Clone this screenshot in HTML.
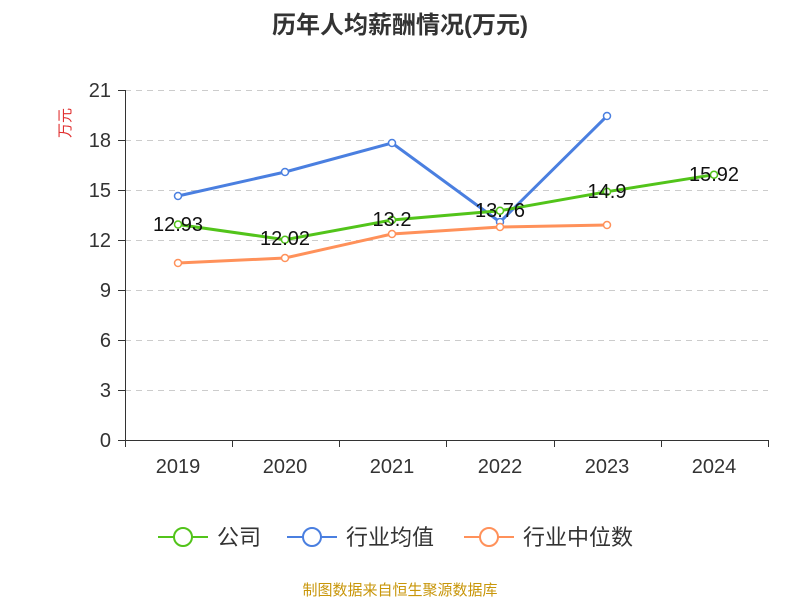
<!DOCTYPE html>
<html><head><meta charset="utf-8"><style>
html,body{margin:0;padding:0;background:#fff;}
svg{display:block;}
text{font-family:"Liberation Sans","Noto Sans CJK SC",sans-serif;}
</style></head><body>
<svg width="800" height="600" viewBox="0 0 800 600" xmlns="http://www.w3.org/2000/svg">
<rect width="800" height="600" fill="#fff"/>
<text x="400" y="33" text-anchor="middle" font-size="24" font-weight="bold" fill="#333">历年人均薪酬情况(万元)</text>
<text x="70" y="123" font-size="15" fill="#e03030" text-anchor="middle" transform="rotate(-90 70 123)">万元</text>
<g stroke="#ccc" stroke-dasharray="6,5" stroke-width="1">
<line x1="125" x2="768" y1="90.5" y2="90.5"/><line x1="125" x2="768" y1="140.5" y2="140.5"/>
<line x1="125" x2="768" y1="190.5" y2="190.5"/><line x1="125" x2="768" y1="240.5" y2="240.5"/>
<line x1="125" x2="768" y1="290.5" y2="290.5"/><line x1="125" x2="768" y1="340.5" y2="340.5"/>
<line x1="125" x2="768" y1="390.5" y2="390.5"/>
</g>
<g stroke="#333" stroke-width="1">
<line x1="125.5" x2="125.5" y1="90" y2="440"/>
<line x1="125" x2="769" y1="440.5" y2="440.5"/>
<line x1="118" x2="125" y1="90.5" y2="90.5"/><line x1="118" x2="125" y1="140.5" y2="140.5"/>
<line x1="118" x2="125" y1="190.5" y2="190.5"/><line x1="118" x2="125" y1="240.5" y2="240.5"/>
<line x1="118" x2="125" y1="290.5" y2="290.5"/><line x1="118" x2="125" y1="340.5" y2="340.5"/>
<line x1="118" x2="125" y1="390.5" y2="390.5"/><line x1="118" x2="125" y1="440.5" y2="440.5"/>
<line x1="232.5" x2="232.5" y1="440" y2="447"/><line x1="339.5" x2="339.5" y1="440" y2="447"/>
<line x1="446.5" x2="446.5" y1="440" y2="447"/><line x1="554.5" x2="554.5" y1="440" y2="447"/>
<line x1="661.5" x2="661.5" y1="440" y2="447"/><line x1="768.5" x2="768.5" y1="440" y2="447"/>
<line x1="125.5" x2="125.5" y1="440" y2="447"/>
</g>
<g font-size="20" fill="#333" text-anchor="end">
<text x="111" y="97">21</text><text x="111" y="147">18</text><text x="111" y="197">15</text>
<text x="111" y="247">12</text><text x="111" y="297">9</text><text x="111" y="347">6</text>
<text x="111" y="397">3</text><text x="111" y="447">0</text>
</g>
<g font-size="20" fill="#333" text-anchor="middle">
<text x="178" y="473">2019</text><text x="285" y="473">2020</text><text x="392" y="473">2021</text>
<text x="500" y="473">2022</text><text x="607" y="473">2023</text><text x="714" y="473">2024</text>
</g>
<g fill="none" stroke-width="3">
<polyline stroke="#4a7fe0" points="178,196 285,172 392,143 500,222 607,116"/>
<polyline stroke="#ff915a" points="178,263 285,258 392,234 500,227 607,225"/>
<polyline stroke="#52c41a" points="178,224.5 285,239.7 392,220 500,210.7 607,191.7 714,174.7"/>
</g>
<g fill="#fff" stroke-width="1.5">
<g stroke="#4a7fe0"><circle cx="178" cy="196" r="3.5"/><circle cx="285" cy="172" r="3.5"/><circle cx="392" cy="143" r="3.5"/><circle cx="500" cy="222" r="3.5"/><circle cx="607" cy="116" r="3.5"/></g>
<g stroke="#ff915a"><circle cx="178" cy="263" r="3.5"/><circle cx="285" cy="258" r="3.5"/><circle cx="392" cy="234" r="3.5"/><circle cx="500" cy="227" r="3.5"/><circle cx="607" cy="225" r="3.5"/></g>
<g stroke="#52c41a"><circle cx="178" cy="224.5" r="3.5"/><circle cx="285" cy="239.7" r="3.5"/><circle cx="392" cy="220" r="3.5"/><circle cx="500" cy="210.7" r="3.5"/><circle cx="607" cy="191.7" r="3.5"/><circle cx="714" cy="174.7" r="3.5"/></g>
</g>
<g font-size="20" fill="#111" text-anchor="middle">
<text x="178" y="231">12.93</text><text x="285" y="245">12.02</text><text x="392" y="226">13.2</text>
<text x="500" y="217">13.76</text><text x="607" y="198">14.9</text><text x="714" y="181">15.92</text>
</g>
<g stroke-width="2" fill="#fff">
<line x1="158" x2="208" y1="537" y2="537" stroke="#52c41a"/><circle cx="183" cy="537" r="9" stroke="#52c41a"/>
<line x1="287" x2="337" y1="537" y2="537" stroke="#4a7fe0"/><circle cx="312" cy="537" r="9" stroke="#4a7fe0"/>
<line x1="464" x2="514" y1="537" y2="537" stroke="#ff915a"/><circle cx="489" cy="537" r="9" stroke="#ff915a"/>
</g>
<g font-size="22" fill="#333">
<text x="217" y="545">公司</text><text x="346" y="545">行业均值</text><text x="523" y="545">行业中位数</text>
</g>
<text x="400" y="595" text-anchor="middle" font-size="15" fill="#c8960a">制图数据来自恒生聚源数据库</text>
</svg>
</body></html>
